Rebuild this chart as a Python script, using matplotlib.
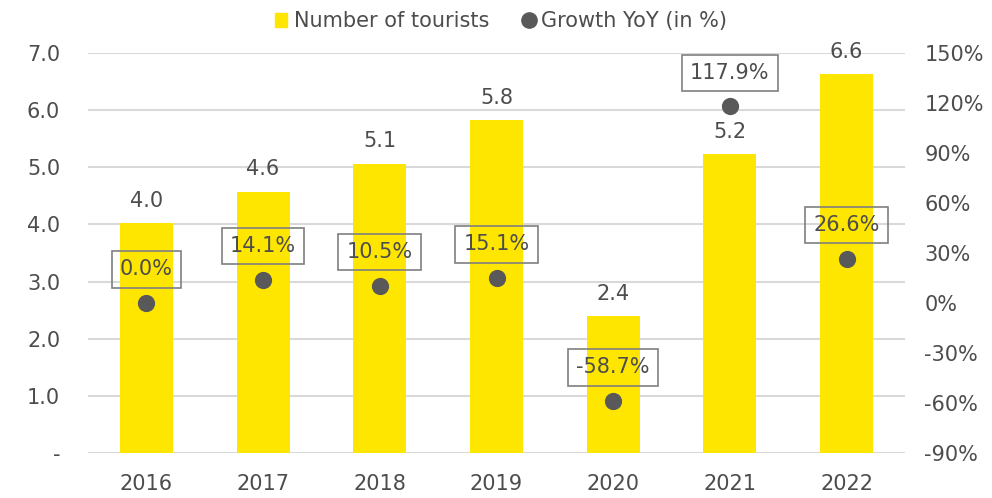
import matplotlib.pyplot as plt
from matplotlib.lines import Line2D
from matplotlib.patches import Patch
from matplotlib.ticker import FuncFormatter

years = ["2016", "2017", "2018", "2019", "2020", "2021", "2022"]
tourists = [4.02, 4.57, 5.06, 5.82, 2.39, 5.23, 6.63]
growth = [0.0, 14.1, 10.5, 15.1, -58.7, 117.9, 26.6]

YELLOW = "#FFE600"
DOT = "#595959"
TEXT = "#4D4D4D"
GRID = "#D9D9D9"

plt.rcParams['font.family'] = ['DejaVu Sans']

fig = plt.figure(figsize=(9.92, 4.98), dpi=100)
ax = fig.add_axes([88 / 992, 45 / 498, 817 / 992, 400 / 498])
ax2 = ax.twinx()

x = list(range(len(years)))
ax.bar(x, tourists, width=0.455, color=YELLOW, zorder=2)
for xi, v in zip(x, tourists):
    ax.text(xi, v + 0.22, f"{v:.1f}", ha="center", va="bottom", fontsize=15, color=TEXT)

ax.set_xlim(-0.5, len(years) - 0.5)
ax.set_ylim(0, 7)
ax.set_yticks(range(0, 8))
ax.yaxis.set_major_formatter(FuncFormatter(lambda v, p: "-" if v == 0 else f"{v:.1f}"))
ax.set_xticks(x)
ax.set_xticklabels(years)
ax.grid(axis="y", color=GRID, linewidth=1.5, zorder=0)
ax.set_axisbelow(True)

ax2.scatter(x, growth, s=130, color=DOT, zorder=3)
for xi, g in zip(x, growth):
    ax2.annotate(f"{g:.1f}%", (xi, g), xytext=(0, 17), textcoords="offset points",
                 ha="center", va="bottom", fontsize=15, color=TEXT,
                 bbox=dict(boxstyle="square,pad=0.4", fc="none", ec="#7F7F7F", lw=1.2))
ax2.set_ylim(-90, 150)
ax2.set_yticks(range(-90, 151, 30))
ax2.yaxis.set_major_formatter(FuncFormatter(lambda v, p: f"{v:.0f}%"))

for a in (ax, ax2):
    for s in a.spines.values():
        s.set_visible(False)
    a.tick_params(length=0, labelsize=15, labelcolor=TEXT)
ax.tick_params(axis="y", pad=20)
ax.tick_params(axis="x", pad=15)
ax2.tick_params(axis="y", pad=14)

handles = [Patch(color=YELLOW, label="Number of tourists"),
           Line2D([], [], marker="o", ls="none", color=DOT, markersize=11, label="Growth YoY (in %)")]
leg = fig.legend(handles=handles, loc="upper center", bbox_to_anchor=(0.505, 1.015), ncol=2,
                 frameon=False, fontsize=15, handlelength=0.6, handletextpad=0.3, columnspacing=1.6)
for t in leg.get_texts():
    t.set_color(TEXT)

fig.savefig("out.png", dpi=100)
